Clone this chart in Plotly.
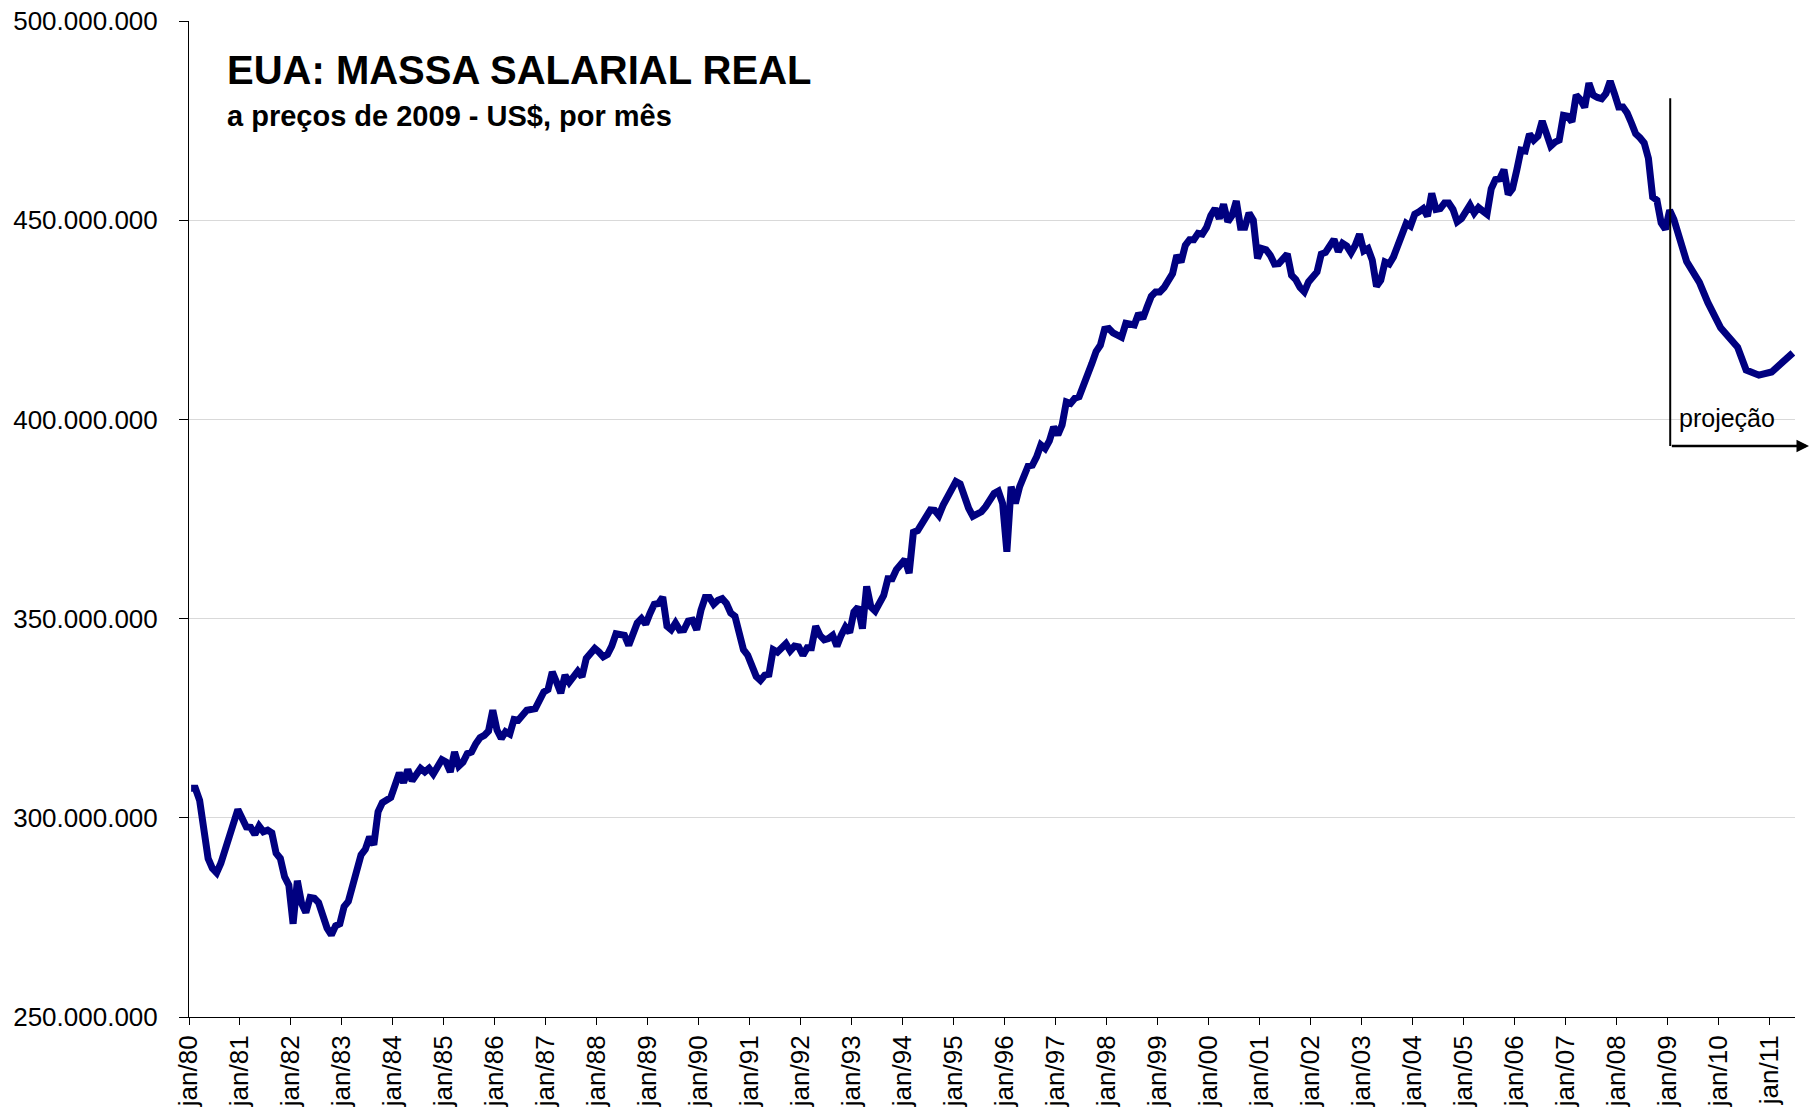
import plotly.graph_objects as go

# month index counted from jan/1980 (0 = jan/80)
meses = [
    0, 1, 2, 3, 4, 5, 6, 7, 9, 11, 12, 13, 14, 15, 16, 17, 18, 19, 20, 21, 22, 23,
    24, 25, 26, 27, 28, 29, 30, 31, 32, 33, 34, 35, 36, 37, 38, 40, 41, 42, 43, 44, 45, 46, 47,
    49, 50, 51, 52, 54, 55, 56, 57, 59,
    60, 61, 62, 63, 64, 65, 66, 67, 68, 69, 70, 71,
    72, 73, 74, 75, 76, 77, 79, 81, 82, 83,
    84, 85, 86, 87, 88, 89, 91, 92, 93, 94, 95,
    96, 97, 98, 99, 100, 102, 103, 104, 105, 106, 107,
    108, 109, 110, 111, 112, 113, 114, 115, 116, 117, 118, 119,
    120, 121, 122, 123, 124, 125, 126, 127, 128, 130, 131,
    132, 133, 134, 135, 136, 137, 138, 139, 140, 141, 142, 143,
    144, 145, 146, 147, 148, 149, 150, 151, 152, 153, 154, 155,
    156, 157, 158, 159, 160, 161, 162, 163, 164, 165, 166, 167,
    168, 169, 170, 171, 172, 173, 174, 175, 176, 177, 178, 179,
    180, 181, 182, 183, 184, 185, 186, 187, 188, 189, 190, 191,
    192, 193, 194, 195, 197, 198, 199, 200, 201, 202, 203,
    204, 205, 206, 207, 208, 209, 210, 211, 212, 213, 214, 215,
    216, 217, 219, 220, 221, 222, 223, 224, 225, 226, 227,
    228, 229, 230, 231, 232, 233, 234, 235, 236, 237, 238, 239,
    240, 241, 242, 243, 244, 245, 246, 247, 248, 249, 250, 251,
    252, 253, 254, 255, 256, 257, 258, 259, 260, 261, 262, 263,
    264, 265, 266, 267, 269, 270, 271, 272, 273, 274, 275,
    276, 277, 278, 279, 280, 281, 282, 283, 284, 285, 286, 287,
    288, 289, 290, 291, 292, 293, 294, 295, 296, 297, 298, 299,
    300, 301, 302, 303, 304, 305, 306, 307, 308, 309, 310, 311,
    312, 313, 314, 315, 316, 317, 318, 319, 320, 321, 322, 323,
    324, 325, 326, 327, 328, 329, 330, 331, 332, 333, 334, 335,
    336, 337, 338, 339, 340, 341, 342, 343, 344, 345, 346, 347,
    348, 349, 351, 352, 355, 357, 360, 364, 366, 369, 372, 374, 377,
]

# real wage bill, millions of US$ (2009 prices), per month
massa_mi = [
    307.4, 307.4, 304.4, 295.2, 289.8, 287.3, 286.2, 288.6, 294.9, 302.1, 299.9, 297.7, 297.6, 295.8, 297.9, 296.5, 296.9, 296.2, 291.1, 289.8, 285.2, 283.1,
    273.4, 284.2, 278.5, 276.2, 280.0, 279.8, 278.7, 275.2, 272.3, 270.6, 272.9, 273.4, 277.7, 279.0, 283.1, 290.7, 292.1, 295.2, 293.2, 301.5, 303.8, 304.7, 305.1,
    311.3, 308.8, 312.1, 309.3, 312.4, 311.5, 312.4, 311.0, 314.6,
    314.0, 311.5, 316.5, 313.0, 314.0, 316.1, 316.5, 318.6, 320.1, 320.7, 321.8, 327.0,
    322.0, 319.9, 321.6, 321.0, 324.7, 324.5, 327.0, 327.4, 329.7, 331.6,
    332.2, 336.6, 334.1, 331.3, 335.8, 334.0, 336.8, 335.4, 340.0, 341.6, 342.5,
    341.6, 340.4, 341.0, 343.1, 346.2, 345.8, 343.3, 346.2, 348.9, 350.0, 348.6,
    351.3, 353.6, 353.8, 355.4, 348.1, 347.2, 348.9, 347.1, 347.2, 349.4, 349.6, 347.2,
    352.1, 355.3, 355.3, 353.6, 354.6, 355.0, 353.8, 351.4, 350.6, 342.2, 340.8,
    338.3, 335.5, 334.5, 335.8, 336.0, 342.2, 341.6, 342.7, 343.7, 341.9, 343.1, 342.9,
    340.8, 342.7, 342.7, 348.1, 345.8, 344.7, 345.0, 345.8, 343.1, 345.8, 347.9, 346.5,
    351.7, 352.9, 347.5, 358.1, 352.9, 351.9, 354.2, 355.8, 360.0, 360.0, 362.3, 363.8,
    364.8, 361.4, 371.7, 372.1, 373.6, 375.5, 377.3, 377.2, 375.9, 378.5, 380.5, 382.8,
    384.4, 383.8, 380.6, 377.7, 375.7, 376.4, 376.8, 378.1, 380.2, 381.4, 382.0, 378.9,
    366.8, 383.1, 378.9, 383.1, 388.3, 388.5, 390.6, 393.6, 392.7, 394.6, 398.1,
    396.1, 398.6, 404.4, 404.0, 405.3, 405.7, 408.2, 410.7, 414.0, 417.0, 418.6, 422.6,
    422.8, 421.7, 420.6, 424.1, 423.7, 423.7, 426.6, 425.3, 428.2, 430.9, 432.0,
    432.0, 433.1, 434.5, 436.6, 441.2, 439.5, 443.7, 445.1, 445.1, 446.7, 446.5, 448.2,
    451.2, 452.9, 450.4, 454.0, 449.6, 451.2, 454.8, 448.2, 448.2, 451.8, 450.0, 440.4,
    442.9, 442.6, 441.2, 439.0, 439.1, 440.6, 441.5, 436.2, 435.1, 433.1, 432.0, 434.5,
    435.6, 437.0, 441.5, 441.9, 445.2, 442.1, 444.2, 443.5, 441.8, 443.7, 446.5,
    442.3, 442.9, 440.0, 433.4, 434.9, 439.5, 439.0, 440.8, 443.3, 446.0, 449.2, 448.5,
    451.5, 452.1, 452.9, 451.0, 456.7, 452.7, 452.9, 454.3, 454.3, 452.7, 449.6, 450.4,
    452.3, 453.8, 451.8, 453.2, 452.3, 451.5, 457.9, 460.2, 460.4, 462.7, 456.5, 457.9,
    462.5, 467.6, 467.4, 471.6, 470.1, 471.1, 474.9, 471.9, 468.6, 469.6, 470.1, 476.3,
    476.1, 474.7, 481.4, 480.3, 478.3, 484.4, 481.4, 480.8, 480.5, 481.8, 484.9, 481.8,
    478.4, 478.4, 476.9, 474.4, 471.7, 470.7, 469.4, 465.5, 455.8, 455.0, 449.3, 447.7,
    452.5, 450.2, 443.3, 439.6, 434.4, 429.3, 423.0, 418.1, 412.4, 411.1, 411.9, 413.6, 416.7,
]

rotulos_x = ["jan/%02d" % (a % 100) for a in range(1980, 2012)]
ticks_y_mi = [250, 300, 350, 400, 450, 500]

FONT = "Liberation Sans, Arial, sans-serif"

x_vals = [m for m in meses]
y_vals = [v * 1e6 for v in massa_mi]

fig = go.Figure()
fig.add_trace(go.Scatter(
    x=x_vals, y=y_vals, mode="lines",
    line=dict(color="#000080", width=7),
    hoverinfo="skip", showlegend=False,
))

fig.update_layout(
    template="none",
    width=1810, height=1108,
    margin=dict(l=189, r=15, t=21, b=91, autoexpand=False),
    paper_bgcolor="white", plot_bgcolor="white",
    separators=",.",
    font=dict(family=FONT, size=26, color="black"),
    showlegend=False,
)

fig.update_xaxes(
    range=[-0.5, 377.5],
    automargin=False,
    tickmode="array",
    tickvals=[12 * i - 0.5 for i in range(len(rotulos_x))],
    ticktext=rotulos_x,
    tickangle=-90,
    ticks="outside", ticklen=7, tickcolor="black", tickwidth=1,
    showline=True, linecolor="black", linewidth=1,
    showgrid=False, zeroline=False,
    tickfont=dict(family=FONT, size=26, color="black"),
)

fig.update_yaxes(
    range=[250e6, 500e6],
    automargin=False,
    tickmode="array",
    tickvals=[t * 1e6 for t in ticks_y_mi],
    tickformat=",.0f",
    ticks="outside", ticklen=9, tickcolor="black", tickwidth=1,
    ticklabelstandoff=16,
    showline=True, linecolor="black", linewidth=1,
    showgrid=True, gridcolor="#d9d9d9", gridwidth=1,
    zeroline=False,
    tickfont=dict(family=FONT, size=26, color="black"),
)

fig.add_annotation(
    xref="paper", yref="paper", x=0.0225, y=0.9512,
    xanchor="left", yanchor="middle", showarrow=False,
    text="EUA: MASSA SALARIAL REAL",
    font=dict(family=FONT, size=40, color="black", weight="bold"),
)
fig.add_annotation(
    xref="paper", yref="paper", x=0.0225, y=0.905,
    xanchor="left", yanchor="middle", showarrow=False,
    text="a preços de 2009 - US$, por mês",
    font=dict(family=FONT, size=29, color="black", weight="bold"),
)

# projection marker
fig.add_shape(type="line", xref="paper", yref="paper",
              x0=0.9223, x1=0.9223, y0=0.5733, y1=0.9225,
              line=dict(color="black", width=2))
fig.add_annotation(
    xref="paper", yref="paper", x=1.0195, y=0.5733,
    ax=-156, ay=0, showarrow=True, arrowhead=2, arrowsize=1,
    arrowwidth=2.5, arrowcolor="black", text="",
)
fig.add_annotation(
    xref="paper", yref="paper", x=0.9267, y=0.6017,
    xanchor="left", yanchor="middle", showarrow=False,
    text="projeção",
    font=dict(family=FONT, size=25, color="black"),
)

fig.write_html("out.html", config={"displayModeBar": False},
               post_script="document.body.style.margin='0px';")
